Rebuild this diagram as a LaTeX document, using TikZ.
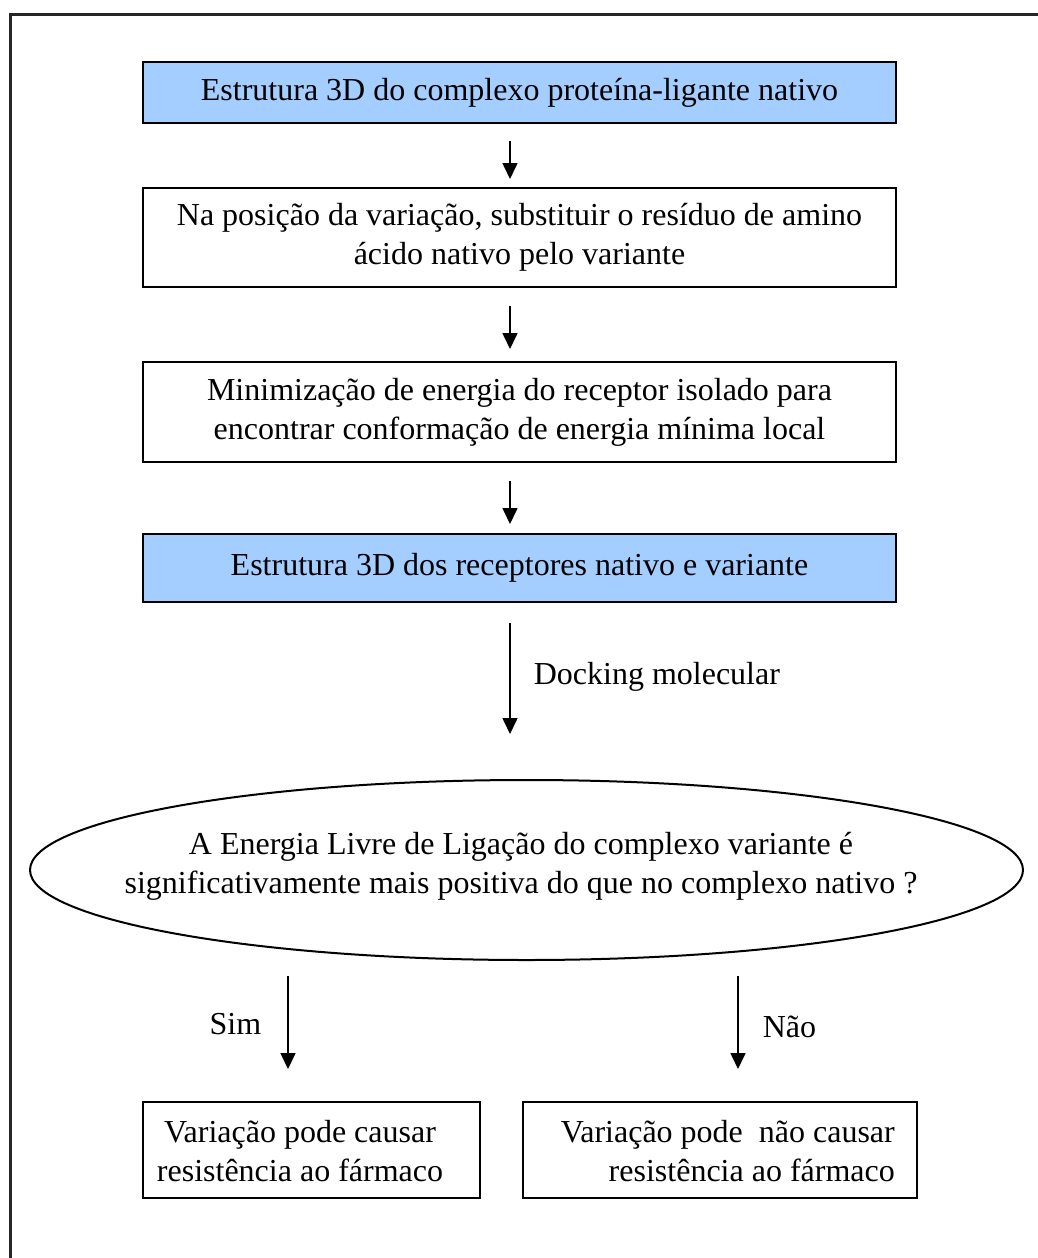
\documentclass[tikz,border=0pt]{standalone}
\usepackage{fontspec}
\setmainfont{Liberation Serif}
\usetikzlibrary{arrows.meta,shapes.geometric,calc}
\definecolor{stepblue}{RGB}{163,206,255}
\tikzset{
  txt/.style={font=\fontsize{32}{39}\selectfont, inner sep=0pt},
  stepbox/.style={draw=black, line width=2pt, rectangle, inner sep=0pt,
    font=\fontsize{32}{39}\selectfont, align=center},
  bluebox/.style={stepbox, fill=stepblue},
  decision/.style={draw=black, line width=2pt, ellipse, inner sep=0pt},
  arr/.style={line width=1.6pt, -{Triangle[width=15pt,length=16pt]}},
}
\begin{document}
\begin{tikzpicture}[x=1pt,y=-1pt]
\useasboundingbox (0,0) rectangle (1038,1258);
% outer frame (open at right and bottom)
\draw[line width=3pt, black!85] (10,1262) -- (10,14) -- (1042,14);

% process steps
\node[bluebox, minimum width=753pt, minimum height=61pt] (s1) at (519.5,92.5)
  {Estrutura 3D do complexo proteína-ligante nativo};
\node[stepbox, minimum width=753pt, minimum height=99pt] (s2) at (519.5,237.5)
  {Na posição da variação, substituir o resíduo de amino\\ácido nativo pelo variante};
\node[stepbox, minimum width=753pt, minimum height=100pt] (s3) at (519.5,412)
  {Minimização de energia do receptor isolado para\\encontrar conformação de energia mínima local};
\node[bluebox, minimum width=753pt, minimum height=68pt] (s4) at (519.5,568)
  {Estrutura 3D dos receptores nativo e variante};

% decision
\node[decision, minimum width=993pt, minimum height=180pt] (dec) at (526.5,870) {};
\node[txt, align=center] (dectext) at (521,866)
  {A Energia Livre de Ligação do complexo variante é\\significativamente mais positiva do que no complexo nativo ?};

% outcomes
\node[stepbox, minimum width=337pt, minimum height=96pt] (yes) at (311.5,1150) {};
\node[txt, align=center] (yestext) at (300,1151)
  {Variação pode causar\\resistência ao fármaco};
\node[stepbox, minimum width=394pt, minimum height=96pt] (no) at (720,1150) {};
\node[txt, align=right, anchor=east] (notext) at (895,1151)
  {Variação pode\ \ não causar\\resistência ao fármaco};

% connectors
\draw[arr, shorten <=17pt, shorten >=8pt] ([xshift=-9.5pt]s1.south) -- ([xshift=-9.5pt]s2.north);
\draw[arr, shorten <=18pt, shorten >=12pt] ([xshift=-9.5pt]s2.south) -- ([xshift=-9.5pt]s3.north);
\draw[arr, shorten <=18pt, shorten >=9pt] ([xshift=-9.5pt]s3.south) -- ([xshift=-9.5pt]s4.north);
\draw[arr, shorten <=20pt, shorten >=45pt] ([xshift=-9.5pt]s4.south) -- ([xshift=-9.5pt]s4.south |- dec.north)
  node[txt, pos=0.42, anchor=west, xshift=23pt] (dock) {Docking molecular};

\path ([xshift=-23.5pt]yes.north) coordinate (simend);
\path ([xshift=18pt]no.north) coordinate (naoend);
\draw[arr, shorten <=15pt, shorten >=32pt] (dec.south -| simend) -- (simend)
  node[txt, pos=0.45, anchor=east, xshift=-26pt] (sim) {Sim};
\draw[arr, shorten <=15pt, shorten >=32pt] (dec.south -| naoend) -- (naoend)
  node[txt, pos=0.47, anchor=west, xshift=24pt] (nao) {Não};
\end{tikzpicture}
\end{document}
